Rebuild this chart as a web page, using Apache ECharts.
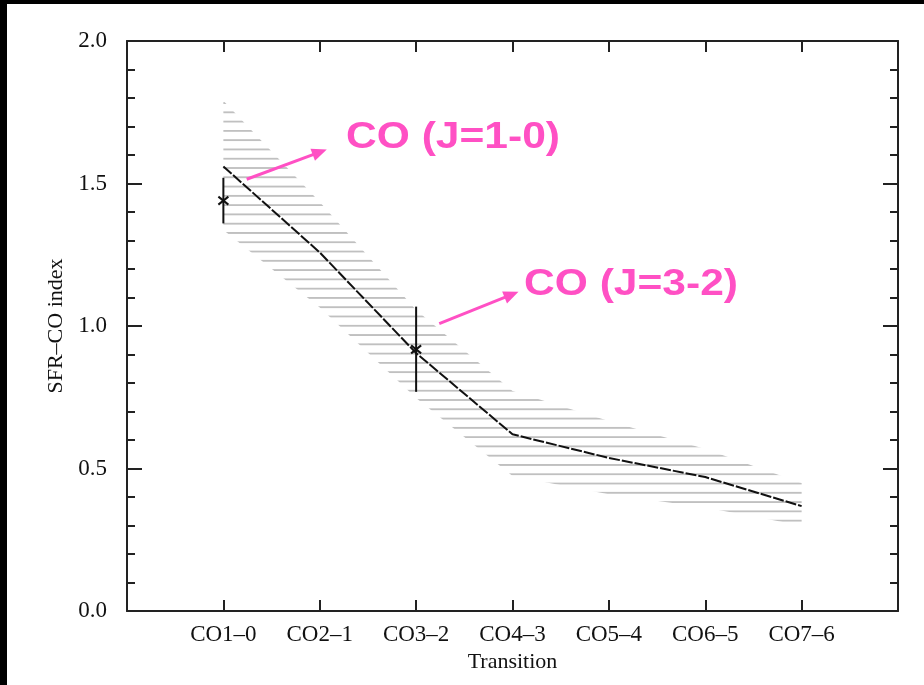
<!DOCTYPE html>
<html>
<head>
<meta charset="utf-8">
<title>SFR-CO index vs transition</title>
<script src="https://cdn.jsdelivr.net/npm/echarts@6/dist/echarts.min.js"></script>
<style>
  html, body { margin: 0; padding: 0; background: #000; }
  #chart { width: 924px; height: 685px; }
</style>
</head>
<body>
<div id="chart"></div>
<script>
// transitions on the x axis
var categories = ["CO1\u20130", "CO2\u20131", "CO3\u20132", "CO4\u20133", "CO5\u20134", "CO6\u20135", "CO7\u20136"];
// model SFR-CO index (dashed line)
var modelIndex = [1.56, 1.258, 0.905, 0.62, 0.537, 0.47, 0.368];
// hatched uncertainty band
var bandUpper = [1.79, 1.435, 1.056, 0.772, 0.667, 0.568, 0.449];
var bandLower = [1.337, 1.065, 0.747, 0.474, 0.41, 0.363, 0.30];
// measured points with error bars
var obsCategory = ["CO1\u20130", "CO3\u20132"];
var obsValue = [1.44, 0.918];
var obsLow = [1.36, 0.769];
var obsHigh = [1.52, 1.068];
var yTicks = [0, 0.5, 1.0, 1.5, 2.0];

var serif = "Liberation Serif";
var pink = "#ff50c4";
var ink = "#222";

// horizontal line hatch used for the band
var hatch = document.createElement("canvas");
hatch.width = 8;
hatch.height = 10;
var hctx = hatch.getContext("2d");
hctx.fillStyle = "#c0c0c0";
hctx.fillRect(0, 0, 8, 2);

var myChart = echarts.init(document.getElementById("chart"));

var lineData = categories.map(function (c, i) { return [i + 1, modelIndex[i]]; });
var obsData = obsCategory.map(function (c, i) {
  return [categories.indexOf(c) + 1, obsValue[i], obsLow[i], obsHigh[i]];
});

function axisX(pos, showLabel) {
  return {
    type: "value",
    position: pos,
    min: 0,
    max: 8,
    interval: 1,
    axisLine: { onZero: false, lineStyle: { color: ink, width: 2 } },
    axisTick: { inside: true, length: 11, lineStyle: { color: ink, width: 2 } },
    splitLine: { show: false },
    axisLabel: {
      show: showLabel,
      margin: 12,
      color: "#111",
      fontFamily: serif,
      fontSize: 23,
      formatter: function (v) { return categories[v - 1] || ""; }
    }
  };
}

function axisY(pos, showLabel) {
  return {
    type: "value",
    position: pos,
    min: yTicks[0],
    max: yTicks[yTicks.length - 1],
    interval: 0.5,
    axisLine: { show: true, onZero: false, lineStyle: { color: ink, width: 2 } },
    axisTick: { show: true, inside: true, length: 15, lineStyle: { color: ink, width: 2 } },
    splitLine: { show: false },
    axisLabel: {
      show: showLabel,
      margin: 20,
      color: "#111",
      fontFamily: serif,
      fontSize: 23,
      formatter: function (v) { return v.toFixed(1); }
    }
  };
}

// short inward ticks every 0.1
function minorY(pos) {
  return {
    type: "value",
    position: pos,
    min: 0,
    max: 2,
    interval: 0.1,
    axisLine: { show: false, onZero: false },
    axisTick: { show: true, inside: true, length: 8, lineStyle: { color: ink, width: 2 } },
    axisLabel: { show: false },
    splitLine: { show: false }
  };
}

var xBottom = axisX("bottom", true);
xBottom.name = "Transition";
xBottom.nameLocation = "middle";
xBottom.nameGap = 34;
xBottom.nameTextStyle = { color: "#111", fontFamily: serif, fontSize: 22 };

var yLeft = axisY("left", true);
yLeft.name = "SFR\u2013CO index";
yLeft.nameLocation = "middle";
yLeft.nameGap = 36;
yLeft.nameTextStyle = { color: "#111", fontFamily: serif, fontSize: 22 };

myChart.setOption({
  backgroundColor: "#fff",
  animation: false,
  grid: { left: 127, right: 26, top: 41, bottom: 74 },
  xAxis: [xBottom, axisX("top", false)],
  yAxis: [yLeft, axisY("right", false), minorY("left"), minorY("right")],
  graphic: [
    { type: "rect", left: 0, top: 0, shape: { width: 7, height: 685 }, style: { fill: "#000" } },
    { type: "rect", left: 0, top: 0, shape: { width: 924, height: 4 }, style: { fill: "#000" } },
    {
      type: "text", left: 346, top: 119, scaleX: 1.15,
      style: { text: "CO (J=1-0)", fill: pink, font: "bold 37px 'Liberation Sans'" }
    },
    {
      type: "text", left: 524, top: 266, scaleX: 1.15,
      style: { text: "CO (J=3-2)", fill: pink, font: "bold 37px 'Liberation Sans'" }
    }
  ],
  series: [
    {
      type: "custom",
      name: "band",
      xAxisIndex: 0,
      yAxisIndex: 0,
      data: [[1, bandUpper[0]]],
      renderItem: function (params, api) {
        var pts = [];
        for (var i = 0; i < categories.length; i++) pts.push(api.coord([i + 1, bandUpper[i]]));
        for (var j = categories.length - 1; j >= 0; j--) pts.push(api.coord([j + 1, bandLower[j]]));
        return {
          type: "polygon",
          shape: { points: pts },
          style: { fill: { image: hatch, repeat: "repeat", scaleY: 0.928 }, stroke: null }
        };
      },
      silent: true
    },
    {
      type: "line",
      name: "model",
      data: lineData,
      symbol: "none",
      lineStyle: { color: "#111", width: 2, type: [11, 2] },
      silent: true
    },
    {
      type: "custom",
      name: "observed",
      data: obsData,
      renderItem: function (params, api) {
        var c = api.coord([api.value(0), api.value(1)]);
        var lo = api.coord([api.value(0), api.value(2)]);
        var hi = api.coord([api.value(0), api.value(3)]);
        var st = { stroke: "#111", lineWidth: 2 };
        return {
          type: "group",
          children: [
            { type: "line", shape: { x1: lo[0], y1: lo[1], x2: hi[0], y2: hi[1] }, style: st },
            { type: "line", shape: { x1: c[0] - 5, y1: c[1] - 4, x2: c[0] + 5, y2: c[1] + 4 }, style: st },
            { type: "line", shape: { x1: c[0] - 5, y1: c[1] + 4, x2: c[0] + 5, y2: c[1] - 4 }, style: st }
          ]
        };
      },
      silent: true
    },
    {
      type: "line",
      name: "arrows",
      data: [],
      markLine: {
        silent: true,
        symbol: ["none", "triangle"],
        symbolSize: [13, 15],
        label: { show: false },
        lineStyle: { color: pink, width: 3, type: "solid" },
        data: [
          [{ coord: [1.242, 1.515] }, { coord: [2.0, 1.61] }],
          [{ coord: [3.24, 1.008] }, { coord: [3.99, 1.11] }]
        ]
      }
    }
  ]
});
</script>
</body>
</html>
